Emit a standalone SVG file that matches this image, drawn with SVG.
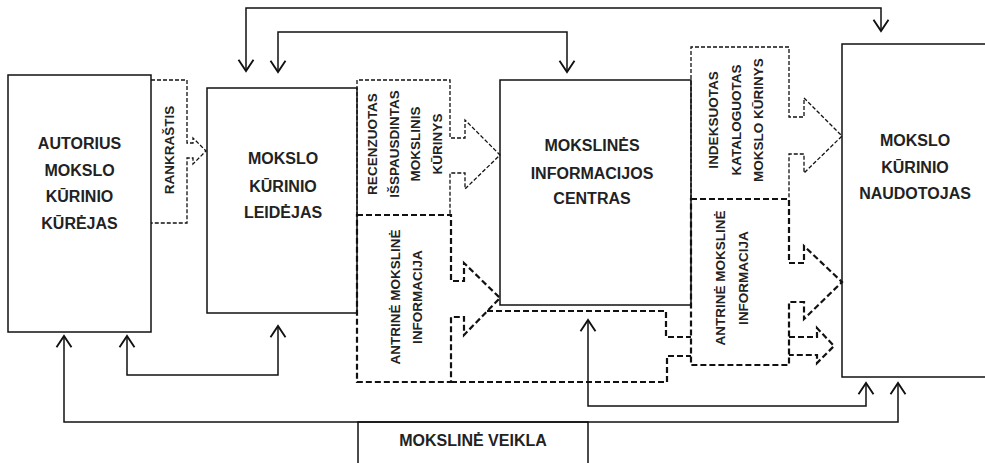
<svg xmlns="http://www.w3.org/2000/svg" width="985" height="463" viewBox="0 0 985 463">
<style>
.box{fill:#fff;stroke:#111;stroke-width:1.5}
.thin{fill:none;stroke:#111;stroke-width:1.3;stroke-dasharray:4 2}
.thick{fill:none;stroke:#111;stroke-width:2.2;stroke-dasharray:6 3}
.con{fill:none;stroke:#111;stroke-width:1.5}
.t{font-family:"Liberation Sans",Arial,sans-serif;font-weight:bold;font-size:16px;fill:#222;text-anchor:middle}
.r{font-family:"Liberation Sans",Arial,sans-serif;font-weight:bold;font-size:13.5px;fill:#222;text-anchor:middle}
</style>
<defs>
<marker id="ah" markerUnits="userSpaceOnUse" markerWidth="20" markerHeight="20" refX="0" refY="0" viewBox="-12 -8 14 16" orient="auto-start-reverse">
<path d="M-9,-6 L0,0 L-9,6" fill="none" stroke="#111" stroke-width="1.5"/>
</marker>
</defs>
<rect x="0" y="0" width="985" height="463" fill="#fff"/>

<g id="autorius">
<rect class="box" x="8" y="75" width="143" height="257"/>
<text class="t" x="79.5" y="149">AUTORIUS</text>
<text class="t" x="79.5" y="176">MOKSLO</text>
<text class="t" x="79.5" y="202">KŪRINIO</text>
<text class="t" x="79.5" y="229">KŪRĖJAS</text>
</g>

<g id="leidejas">
<rect class="box" x="207" y="88" width="150" height="225"/>
<text class="t" x="283" y="164">MOKSLO</text>
<text class="t" x="283" y="192">KŪRINIO</text>
<text class="t" x="283" y="218">LEIDĖJAS</text>
</g>

<g id="centras">
<rect class="box" x="500" y="80" width="191" height="225"/>
<text class="t" x="592" y="151">MOKSLINĖS</text>
<text class="t" x="592" y="179">INFORMACIJOS</text>
<text class="t" x="592" y="204">CENTRAS</text>
</g>

<g id="naudotojas">
<rect class="box" x="842" y="44" width="160" height="333"/>
<text class="t" x="915" y="146">MOKSLO</text>
<text class="t" x="915" y="173">KŪRINIO</text>
<text class="t" x="915" y="199">NAUDOTOJAS</text>
</g>

<g id="veikla">
<rect class="box" x="358" y="422" width="230" height="60"/>
<text class="t" x="473" y="446">MOKSLINĖ VEIKLA</text>
</g>

<g id="rankrastis">
<path class="thin" d="M151,80 H187 V143 H193 V138 L206,151 L193,164 V158 H187 V223 H151"/>
<text class="r" transform="translate(169,150) rotate(-90)" y="5">RANKRAŠTIS</text>
</g>

<g id="recenzuotas">
<path class="thin" d="M357,216 V80 H450 V138 H465 V120 L500,155 L465,189 V173 H450 V216"/>
<text class="r" transform="translate(372,144) rotate(-90)" y="5">RECENZUOTAS</text>
<text class="r" transform="translate(393.5,144) rotate(-90)" y="5">IŠSPAUSDINTAS</text>
<text class="r" transform="translate(415,144) rotate(-90)" y="5">MOKSLINIS</text>
<text class="r" transform="translate(436.5,144) rotate(-90)" y="5">KŪRINYS</text>
</g>

<g id="antrine1">
<path class="thick" d="M357,215 H451 V281 H464 V263 L500,298 L464,335 V317 H451 V382 H357 Z"/>
<text class="r" transform="translate(395,297) rotate(-90)" y="5">ANTRINĖ MOKSLINĖ</text>
<text class="r" transform="translate(417,297) rotate(-90)" y="5">INFORMACIJA</text>
</g>

<g id="indeksuotas">
<path class="thin" d="M691,199 V47 H789 V117 H804 V98 L842,136 L804,173 V154 H789 V199"/>
<text class="r" transform="translate(713,120) rotate(-90)" y="5">INDEKSUOTAS</text>
<text class="r" transform="translate(735.5,120) rotate(-90)" y="5">KATALOGUOTAS</text>
<text class="r" transform="translate(758,120) rotate(-90)" y="5">MOKSLO KŪRINYS</text>
</g>

<g id="antrine2">
<path class="thick" d="M691,199 H789 V263 H804 V246 L842,282 L804,319 V302 H789 V365 H691 Z"/>
<text class="r" transform="translate(720,278) rotate(-90)" y="5">ANTRINĖ MOKSLINĖ</text>
<text class="r" transform="translate(743,278) rotate(-90)" y="5">INFORMACIJA</text>
</g>

<g id="connectors">
<path class="thick" d="M451,382 H667 V356 H691"/>
<path class="thick" d="M487,311 H666 V337 H691"/>
<path class="thick" d="M789,337 H817 V328 L834,346 L817,363 V355 H789"/>
<path class="con" d="M246,71 V8 H881 V31" marker-start="url(#ah)" marker-end="url(#ah)"/>
<path class="con" d="M278,72 V32 H567 V72" marker-start="url(#ah)" marker-end="url(#ah)"/>
<path class="con" d="M127,336 V375 H278 V326" marker-start="url(#ah)" marker-end="url(#ah)"/>
<path class="con" d="M64,336 V422 H898 V383" marker-start="url(#ah)" marker-end="url(#ah)"/>
<path class="con" d="M588,320 V406 H866 V383" marker-start="url(#ah)" marker-end="url(#ah)"/>
</g>
</svg>
